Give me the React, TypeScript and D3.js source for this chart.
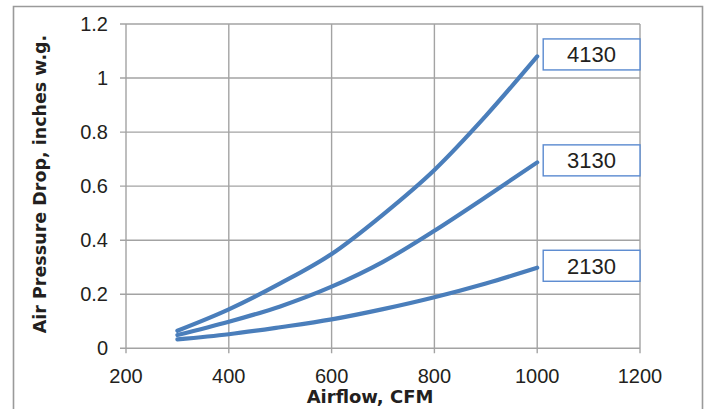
import React from "react";
import * as d3 from "d3";

const airflow = [300, 400, 500, 600, 700, 800, 900, 1000];
const model4130 = [0.065, 0.144, 0.24, 0.349, 0.495, 0.66, 0.86, 1.08];
const model3130 = [0.049, 0.098, 0.155, 0.228, 0.32, 0.435, 0.56, 0.688];
const model2130 = [0.033, 0.052, 0.078, 0.107, 0.145, 0.189, 0.24, 0.298];
const seriesNames = ["4130", "3130", "2130"];
const xTicks = [200, 400, 600, 800, 1000, 1200];
const yTicks = [0, 0.2, 0.4, 0.6, 0.8, 1, 1.2];
const xTitle = "Airflow, CFM";
const yTitle = "Air Pressure Drop, inches w.g.";

const W = 709;
const H = 409;
const LINE = "#4a7ebb";
const GRID = "#a3a3a3";
const TEXT = "#231f20";

export default function App() {
  const x = d3.scaleLinear().domain([200, 1200]).range([126, 640]);
  const y = d3.scaleLinear().domain([0, 1.2]).range([348.3, 24]);
  const series = [model4130, model3130, model2130];
  const line = d3
    .line<number>()
    .x((_, i) => x(airflow[i]))
    .y((d) => y(d))
    .curve(d3.curveMonotoneX);

  return (
    <svg
      width={W}
      height={H}
      style={{ position: "absolute", left: 0, top: 0, background: "#fff" }}
    >
      <rect x={0} y={0} width={W} height={H} fill="#fff" />
      {/* outer frame */}
      <path d={`M13.5,${H + 5} V6.5 H702.5 V${H + 5}`} fill="none" stroke="#9a9a9a" strokeWidth={1.6} />
      {/* horizontal grid */}
      {yTicks.map((t) => (
        <line key={"gy" + t} x1={x(200) - 6} x2={x(1200)} y1={y(t)} y2={y(t)} stroke={GRID} strokeWidth={1.4} />
      ))}
      {/* vertical grid */}
      {xTicks.map((t) => (
        <line key={"gx" + t} x1={x(t)} x2={x(t)} y1={y(1.2)} y2={y(0) + 5} stroke={GRID} strokeWidth={1.4} />
      ))}
      {/* y tick labels */}
      {yTicks.map((t) => (
        <text
          key={"ty" + t}
          x={108}
          y={y(t) + 7}
          textAnchor="end"
          fontFamily="Liberation Sans, Arial, sans-serif"
          fontSize={20}
          fill={TEXT}
        >
          {d3.format("~g")(t)}
        </text>
      ))}
      {/* x tick labels */}
      {xTicks.map((t) => (
        <text
          key={"tx" + t}
          x={x(t)}
          y={383}
          textAnchor="middle"
          fontFamily="Liberation Sans, Arial, sans-serif"
          fontSize={20}
          fill={TEXT}
        >
          {t}
        </text>
      ))}
      {/* series lines */}
      {series.map((s, i) => (
        <path key={"s" + i} d={line(s) || ""} fill="none" stroke={LINE} strokeWidth={4.2} strokeLinecap="round" />
      ))}
      {/* labels */}
      {series.map((s, i) => {
        const yc = y(s[s.length - 1]) - 2;
        const bx = x(1000) + 6;
        const bw = x(1200) - bx;
        const bh = 31;
        return (
          <g key={"l" + i}>
            <rect x={bx} y={yc - bh / 2} width={bw} height={bh} fill="#fff" stroke="#5a8ad0" strokeWidth={1.4} />
            <text
              x={bx + bw / 2}
              y={yc + 8}
              textAnchor="middle"
              fontFamily="Liberation Sans, Arial, sans-serif"
              fontSize={22}
              fill={TEXT}
            >
              {seriesNames[i]}
            </text>
          </g>
        );
      })}
      {/* axis titles */}
      <text
        x={370}
        y={403}
        textAnchor="middle"
        fontFamily="DejaVu Sans, sans-serif"
        fontWeight="bold"
        fontSize={18}
        fill={TEXT}
      >
        {xTitle}
      </text>
      <text
        transform={`translate(46,184) rotate(-90)`}
        textAnchor="middle"
        fontFamily="DejaVu Sans, sans-serif"
        fontWeight="bold"
        fontSize={17.5}
        fill={TEXT}
      >
        {yTitle}
      </text>
    </svg>
  );
}
